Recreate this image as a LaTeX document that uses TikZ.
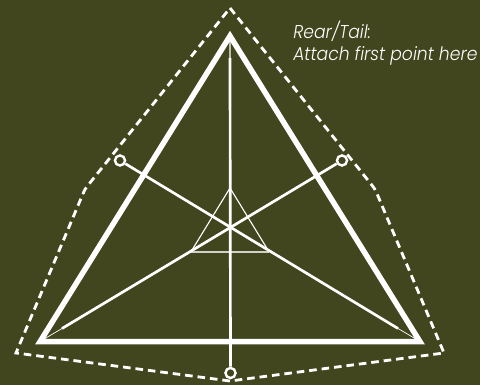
\documentclass[tikz,border=0pt]{standalone}
\usepackage{fontspec}
\setmainfont{Poppins Light}[ItalicFont={Poppins Light Italic},ItalicFeatures={FakeStretch=0.925}]
\definecolor{olivebg}{HTML}{41461E}
\begin{document}
\begin{tikzpicture}[x=0.025cm,y=-0.025cm,
  outline/.style={white,line width=3.9pt,miter limit=10},
  boundary/.style={white,line width=2pt,dash pattern=on 5.4pt off 3.5pt},
  median/.style={white,line width=1.9pt},
  hairline/.style={white,line width=0.5pt},
  holept/.style={circle,draw=white,fill=olivebg,line width=1.7pt,inner sep=0pt,minimum size=7.2pt}]
% ---------------- background ----------------
\fill[olivebg] (0,0) rectangle (480,385);
\useasboundingbox (0,0) rectangle (480,385);

% ---------------- reference points ----------------
\coordinate (apex) at (230,36);
\coordinate (leftpt) at (40,341.7);
\coordinate (rightpt) at (420,341.7);
\coordinate (inapex) at (230,188);
\coordinate (inleft) at (191,251.7);
\coordinate (inright) at (269,251.7);

% ---------------- thin ends of the medians ----------------
\draw[white!65!olivebg,line width=1.5pt] (apex) -- (230,58);
\draw[hairline] (45,338.5) -- (62,328.5);
\draw[hairline] (415,338.5) -- (398,328.5);

% ---------------- inner triangle ----------------
\draw[hairline,line width=0.8pt] (inapex) -- (inright);
\draw[hairline,line width=0.8pt] (inapex) -- (inleft);
\draw[white!75!olivebg,line width=1.2pt] (inleft) -- (inright);

% ---------------- medians, with their holes ----------------
\node[holept] (bottomhole) at (230.5,373) {};
\node[holept] (lefthole) at (120,160.5) {};
\node[holept] (righthole) at (342,160.5) {};
\draw[median] (230,58) -- (bottomhole);
\draw[median] (lefthole) -- (398,328.5);
\draw[median] (righthole) -- (62,328.5);

% ---------------- outer triangle ----------------
\draw[outline] (apex) -- (rightpt) -- (leftpt) -- cycle;

% ---------------- dashed boundary ----------------
\draw[boundary] (230,8) -- (370,182.8) .. controls (375,189) .. (378,196.1) -- (444,353) -- (230,381) -- (16,353)
  -- (82,196.1) .. controls (85,189) .. (90,182.8) -- cycle;

% ---------------- label ----------------
\node[white,font=\itshape\fontsize{13.2pt}{15.4pt}\selectfont,anchor=north west,align=left,inner sep=0pt]
  (taillabel) at (293,21) {Rear/Tail:\\Attach first point here};
\end{tikzpicture}
\end{document}
